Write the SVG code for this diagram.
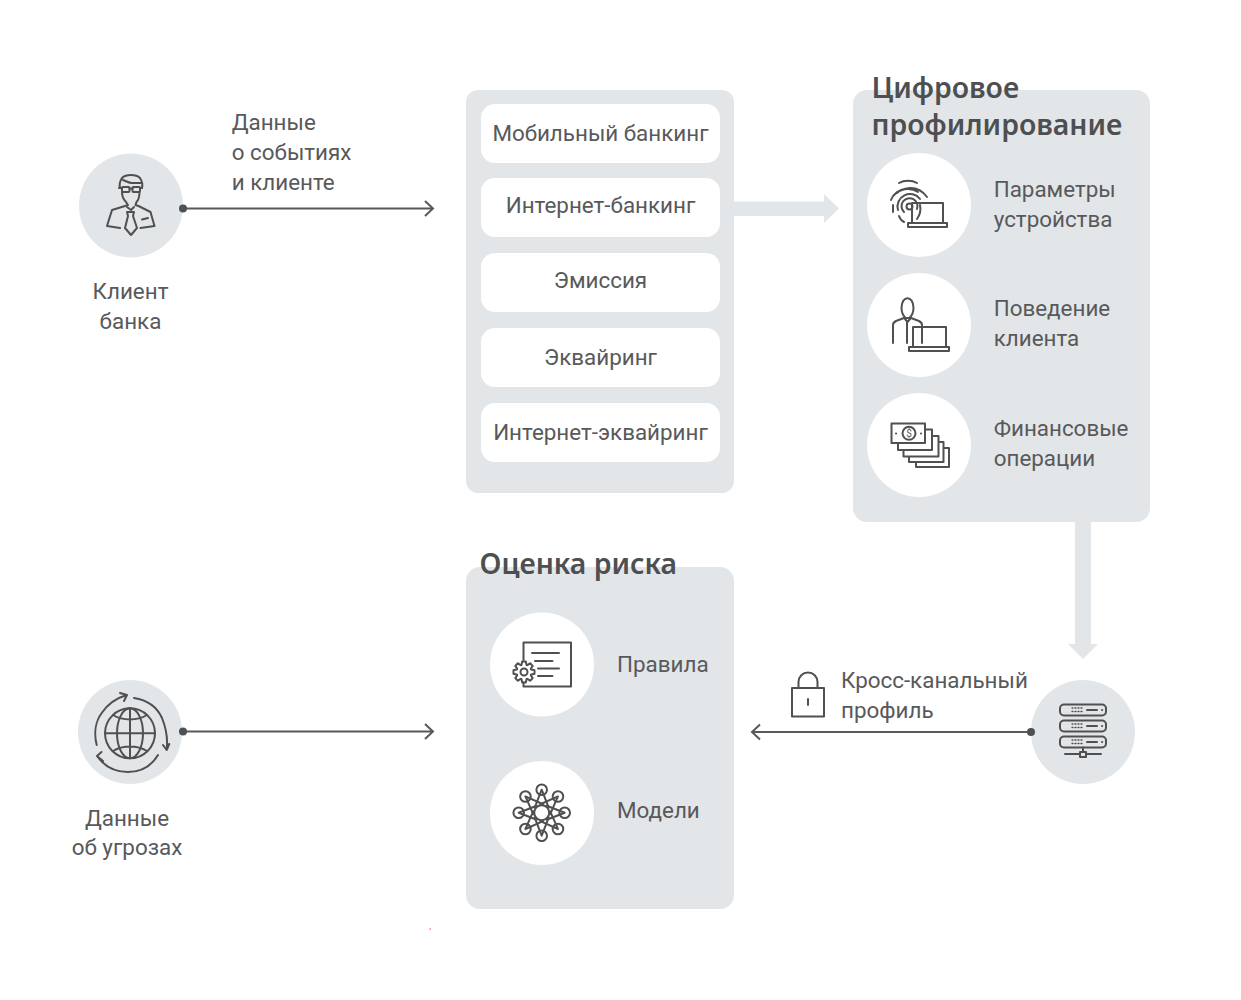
<svg xmlns="http://www.w3.org/2000/svg" width="1241" height="1000" viewBox="0 0 1241 1000">
<style>
text{font-family:Roboto,"Liberation Sans",sans-serif;font-size:22.4px;fill:#58595b}
.m{text-anchor:middle}
.h{font-family:"Noto Sans",Roboto,sans-serif;font-size:28.4px;font-weight:600;fill:#4d4f51}
.panel{fill:#e3e6e8}
.item{fill:#fff}
.c{fill:#e3e6e8}
.w{fill:#fff}
.i{fill:none;stroke:#4f5051;stroke-width:2;stroke-linecap:round;stroke-linejoin:round}
.t{stroke-width:1.3}
.line{fill:none;stroke:#58595b;stroke-width:2}
.dot{fill:#4f5051}
.big{fill:#e3e6e8}
</style>
<defs>
<path id="gear" d="M6.930 -2.870L7.600 -2.400L10.500 -1.800V1.800L7.600 2.400L6.930 2.870"/>
<g id="spoke"><path d="M0 -23L-7 -5M0 -23L7 -5"/><circle cx="0" cy="-23" r="5.300"/></g>
</defs>
<rect width="1241" height="1000" fill="#fff"/>
<g id="client">
<circle class="c" cx="131" cy="205.500" r="52"/>
<g class="i">
<path d="M120 188c-1-4 0-7 2-10 4-4 14-4 18 0 2 3 3 6 2 10M123 180c3 1 6 3 9 3 3 0 6 0 9 0"/>
<rect x="122" y="187" width="7.500" height="5" rx="1"/><rect x="132.500" y="187" width="7.500" height="5" rx="1"/><path d="M129.500 188.500h3M119 188h3M140 188h2"/>
<path d="M122 192c0 4 2 8 4 10l2 3-3 1-13 4-5 16 13 2M139.500 192c0 4-1 8-3 10l-1 3 3 1 12 6 4 14-14 2"/>
<path d="M127 212h7l-1 4 4 12-6 7-6-7 3-12z"/><path d="M127 207l4 3 3-3M142 219.500l6-1.500"/>
</g>
<text class="m" x="130.500" y="299">Клиент</text><text class="m" x="130.500" y="329">банка</text>
</g>
<g id="event-label"><text x="231.700" y="130">Данные</text><text x="231.700" y="160">о событиях</text><text x="231.700" y="190">и клиенте</text></g>
<g id="channels">
<rect class="panel" x="466" y="90" width="268" height="403" rx="12"/>
<rect class="item" x="481" y="104" width="239" height="59" rx="14"/><text class="m" x="600.500" y="141">Мобильный банкинг</text>
<rect class="item" x="481" y="178" width="239" height="59" rx="14"/><text class="m" x="600.500" y="212.500">Интернет-банкинг</text>
<rect class="item" x="481" y="253" width="239" height="59" rx="14"/><text class="m" x="600.500" y="288">Эмиссия</text>
<rect class="item" x="481" y="328" width="239" height="59" rx="14"/><text class="m" x="600.500" y="365">Эквайринг</text>
<rect class="item" x="481" y="403" width="239" height="59" rx="14"/><text class="m" x="600.500" y="440">Интернет-эквайринг</text>
</g>
<g id="digital-profiling">
<rect class="panel" x="853" y="90" width="297" height="432" rx="14"/>
<text class="h" x="871.500" y="97.500">Цифровое</text><text class="h" x="871.500" y="134.500">профилирование</text>
<circle class="w" cx="919" cy="205" r="52"/>
<g class="i">
<circle cx="909.500" cy="206.500" r="3"/>
<path d="M904 212a8 8 0 1 1 13-3M898 210a12.500 12.500 0 0 1 22-11M893 205v7M899 216c1 3 3 5 5 6M891 200c4-12 25-18 36-3M897 193c6-5 15-5 21-1M899 183c5-3 13-3 18 0M920 205c1 5 0 10-3 14"/>
<path d="M912 223v-20h31v20M908 223h39v4h-39z"/>
</g>
<text x="993.700" y="197">Параметры</text><text x="993.700" y="227">устройства</text>
<circle class="w" cx="919" cy="325" r="52"/>
<g class="i">
<path d="M901.500 308c0-13 12-13 12 0 0 4-2 8-4 10h-4c-2-2-4-6-4-10z"/><path d="M904 318l-8 3c-2 1-3 2-3 4v18M911 318l8 3c2 1 3 2 3 4v18M905 319l2.500 3 2.500-3M907 322v21"/>
<path d="M913 346v-19h33v20M909 347h40v4h-40z"/>
</g>
<text x="993.700" y="316">Поведение</text><text x="993.700" y="346">клиента</text>
<circle class="w" cx="919" cy="445" r="52"/>
<g class="i">
<rect x="891.500" y="423.500" width="33.500" height="19.500"/><circle cx="909" cy="433.300" r="6.500"/>
<path d="M925 429.500h7v20.500h-34v-7M932 436h6.500v20.500h-35v-6.500M938.500 442h5v20h-34.500v-5.500M943.500 448h5.500v19h-33v-5"/>
<path d="M896 433.500h.1M921 433.500h.1"/>
</g>
<text x="909" y="437" class="m" style="font-size:10px">$</text>
<text x="993.700" y="436">Финансовые</text><text x="993.700" y="466">операции</text>
</g>
<g id="risk-assessment">
<rect class="panel" x="466" y="567" width="268" height="342" rx="14"/>
<text class="h" x="479.500" y="574">Оценка риска</text>
<circle class="w" cx="542" cy="664.500" r="52"/>
<g class="i">
<path d="M523.500 660v-17.500h47.500v44h-47.500v-4"/><path d="M532 653h27M535 661h17.500M538 668.500h21M538 676h14.500"/>
<g transform="translate(524 672)">
<use href="#gear"/><use href="#gear" transform="rotate(45)"/><use href="#gear" transform="rotate(90)"/><use href="#gear" transform="rotate(135)"/><use href="#gear" transform="rotate(180)"/><use href="#gear" transform="rotate(225)"/><use href="#gear" transform="rotate(270)"/><use href="#gear" transform="rotate(315)"/>
<circle r="3.500"/>
</g>
</g>
<text x="617" y="672">Правила</text>
<circle class="w" cx="542" cy="813" r="52"/>
<g class="i">
<circle cx="541.700" cy="812.700" r="7.500"/>
<g transform="translate(541.700 812.700)">
<use href="#spoke"/><use href="#spoke" transform="rotate(45)"/><use href="#spoke" transform="rotate(90)"/><use href="#spoke" transform="rotate(135)"/><use href="#spoke" transform="rotate(180)"/><use href="#spoke" transform="rotate(225)"/><use href="#spoke" transform="rotate(270)"/><use href="#spoke" transform="rotate(315)"/>
</g>
</g>
<text x="617" y="818">Модели</text>
</g>
<g id="threat-data">
<circle class="c" cx="130" cy="732" r="52"/>
<g class="i">
<circle cx="130" cy="733.300" r="25"/><ellipse cx="130" cy="733.300" rx="13" ry="25"/><path d="M130 708.300v50M105 733.300h50M113 715c10 6 24 6 34 0M113 751c10-6 24-6 34 0"/>
<path d="M96.700 745c-3-12-1-24 5-32 6-9 15-15 25-18M120 693l7 2-3 6M134 698c13 2 23 9 28 20 4 10 6 21 4.700 32M163 745l3.700 5 2.500-6M158 755c-6 10-16 17-30 17-13 0-24-6-31-16M101.500 752l-4.500 4 6 5"/>
</g>
<text class="m" x="127" y="826">Данные</text><text class="m" x="127" y="855">об угрозах</text>
</g>
<g id="cross-channel-label">
<g class="i">
<rect x="792" y="688" width="32" height="28.500"/><path d="M798.500 688v-6a9.500 9.500 0 0 1 19 0v6M808 699v6"/>
</g>
<text x="841" y="688">Кросс-канальный</text><text x="841" y="717.500">профиль</text>
</g>
<g id="profile-server">
<circle class="c" cx="1083" cy="732" r="52"/>
<g class="i">
<rect x="1060" y="704.500" width="46" height="11" rx="4"/><rect x="1060" y="720.500" width="46" height="11" rx="4"/><rect x="1060" y="736.500" width="46" height="11" rx="4"/>
<path d="M1087 710h10M1087 726h10M1087 742h10M1102 710h.1M1102 726h.1M1102 742h.1"/>
<path d="M1083 747.500v4.500M1065 754h15M1086 754h15M1080 752h6v5h-6z"/>
<path class="t" stroke-dasharray="1 2" d="M1072 708h10M1072 711.500h10M1072 724h10M1072 727.500h10M1072 740h10M1072 743.500h10"/>
</g>
</g>
<g id="connectors">
<polygon class="big" points="734,201.500 824,201.500 824,194 839,208.500 824,223 824,216 734,216"/>
<polygon class="big" points="1075,522 1091,522 1091,644 1098,644 1083,659 1068,644 1075,644"/>
<path class="line" d="M183 208.500H433M425 201l8 7.500-8 7.500"/>
<circle class="dot" cx="183" cy="208.500" r="4"/>
<path class="line" d="M183 731.500H433M425 724l8 7.500-8 7.500"/>
<circle class="dot" cx="183" cy="731.500" r="4"/>
<path class="line" d="M1031 732H752M760 724.500l-8 7.500 8 7.500"/>
<circle class="dot" cx="1031" cy="732" r="4"/>
</g>
<rect id="speck" x="429.500" y="928" width="1.500" height="2" fill="#f8a0a8"/>
</svg>
